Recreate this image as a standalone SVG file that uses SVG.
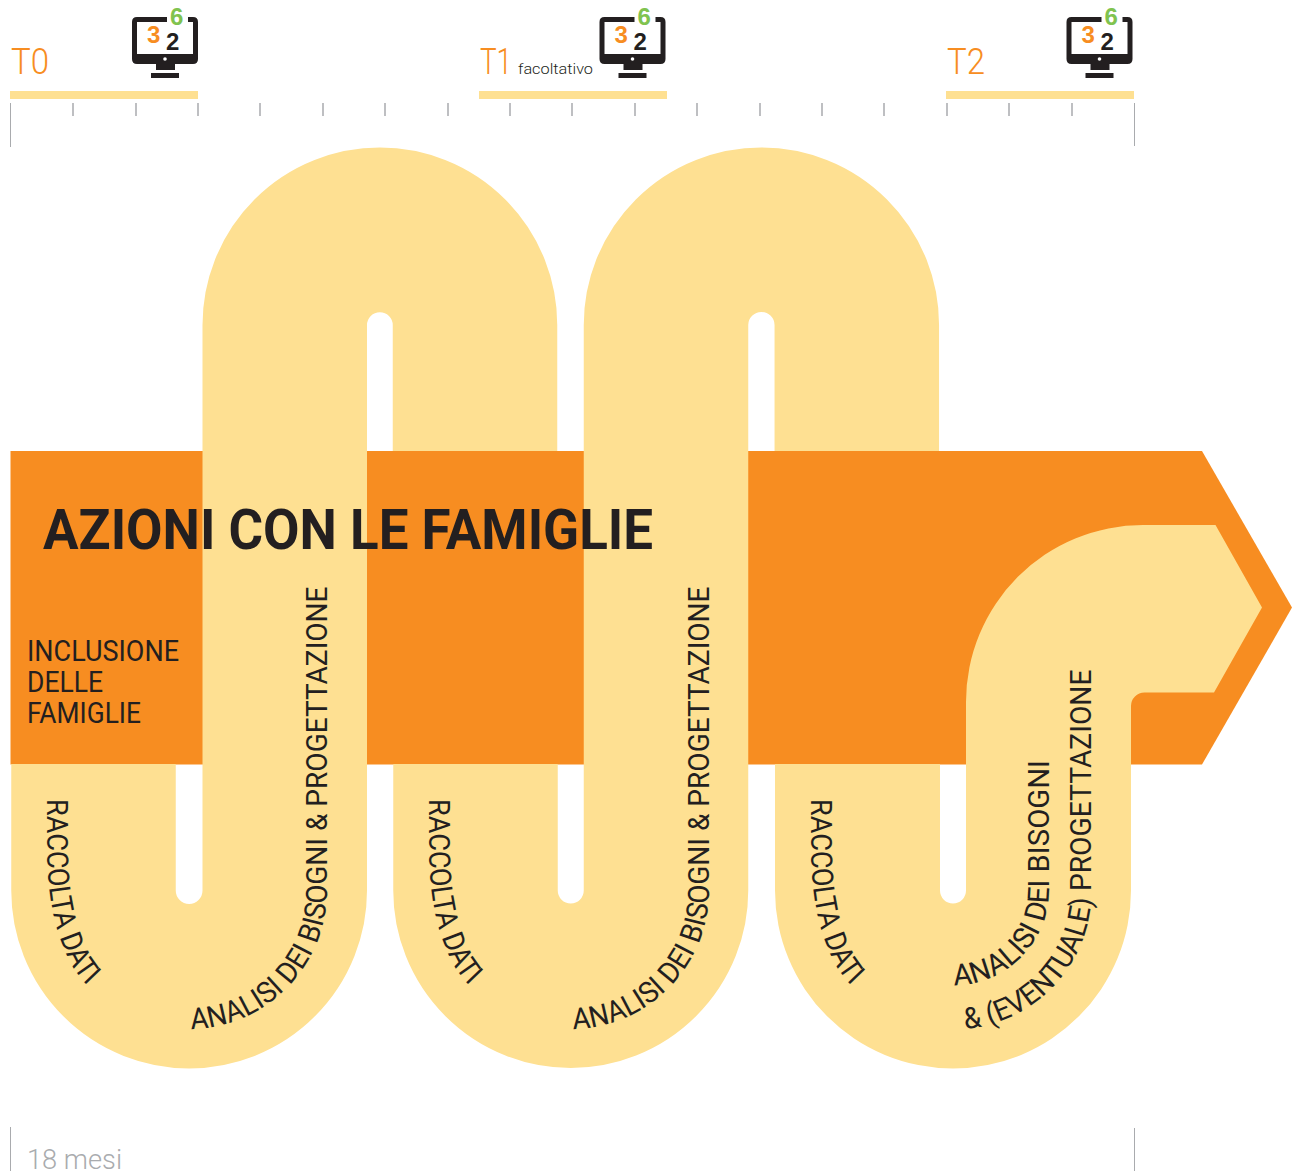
<svg xmlns="http://www.w3.org/2000/svg" width="1297" height="1174" viewBox="0 0 1297 1174">
<style>
.band{fill:none;stroke:#fee092;stroke-width:164.500}
.bar{fill:#fee092}
.tick{stroke:#a9abae;stroke-width:1.500;fill:none}
.long{stroke:#a9abae;stroke-width:1;fill:none}
.t{font-family:"Roboto","Liberation Sans",sans-serif;fill:#f78d21;font-size:37px;font-weight:300}
.lab{font-family:"Roboto","Liberation Sans",sans-serif;fill:#231f20;font-size:29.500px;font-weight:400}
.dk{fill:#231f20}
.num{font-family:"Liberation Sans",sans-serif;font-weight:700;font-size:24px}
</style>
<defs>
<g id="monitor">
<path class="dk" d="M35 0H5Q0 0 0 5V42Q0 47 5 47H61Q66 47 66 42V5Q66 0 61 0H56V5H61V37H5V5H35Z"/>
<path class="dk" d="M24 46H43V53H24ZM19 56H47V61H19Z"/>
<circle cx="33" cy="42" r="1.800" fill="#fff"/>
<text class="num" x="15" y="26" style="fill:#f78d21">3</text>
<text class="num" x="34" y="32.500" style="fill:#231f20">2</text>
<text class="num" x="38" y="8" style="fill:#80c34f">6</text>
</g>
<path id="p1" d="M47 799V850C47 915 65 965 88 986C110 1005 130 1020 160 1030"/>
<path id="p2" d="M191 1029A138.500 138.500 0 0 0 327 890.500V500"/>
<path id="p3" d="M429 799V850C429 915 447 965 470 986C492 1005 512 1020 542 1030"/>
<path id="p4" d="M573 1029A138.500 138.500 0 0 0 709 890.500V500"/>
<path id="p5" d="M811 799V850C811 915 829 965 852 986C874 1005 894 1020 924 1030"/>
<path id="p6" d="M954 985A95 95 0 0 0 1049 890.500V640"/>
<path id="p7" d="M965 1029A138.500 138.500 0 0 0 1091.500 890.500V560"/>
</defs>

<g id="timeline">
<path class="long" d="M10.500 103V147M1134.500 103V146M10.500 1127V1171M1134.500 1128V1171"/>
<path class="tick" d="M73 103V116M136 103V116M198 103V116M260 103V116M323 103V116M385 103V116M448 103V116M510 103V116M572 103V116M635 103V116M697 103V116M760 103V116M822 103V116M884 103V116M947 103V116M1009 103V116M1072 103V116"/>
</g>

<g id="t0">
<rect class="bar" x="10" y="91" width="188" height="8"/>
<text class="t" x="11" y="74" textLength="38" lengthAdjust="spacingAndGlyphs">T0</text>
<use href="#monitor" x="132" y="17"/>
</g>
<g id="t1">
<rect class="bar" x="479" y="91" width="188" height="8"/>
<text class="t" x="480" y="74" textLength="32" lengthAdjust="spacingAndGlyphs">T1</text>
<text x="518" y="74" font-family="Roboto, 'Liberation Sans', sans-serif" font-size="15.500" font-weight="300" fill="#231f20" textLength="75" lengthAdjust="spacingAndGlyphs">facoltativo</text>
<use href="#monitor" x="599.500" y="17"/>
</g>
<g id="t2">
<rect class="bar" x="946" y="91" width="188" height="8"/>
<text class="t" x="947" y="74" textLength="38" lengthAdjust="spacingAndGlyphs">T2</text>
<use href="#monitor" x="1066.500" y="17"/>
</g>

<g id="arrow"><path d="M10.500 451H1202L1292 607.500L1202 764.500H10.500Z" fill="#f78d21"/></g>

<g id="connectors">
<path class="band" d="M93.500 764V890.500A95.625 95.625 0 0 0 284.750 890.500V325A95.125 95.125 0 0 1 475 325V451"/>
<path class="band" d="M475.500 764V890.500A95.250 95.250 0 0 0 666 890.500V325A95.400 95.400 0 0 1 856.800 325V451"/>
<path d="M775 764V890.500A178 178 0 0 0 1131 890.500V706A13.500 13.500 0 0 1 1144.500 692.500H1214L1262 607.500L1215.500 525H1143A177 177 0 0 0 966 702V890.500A13 13 0 0 1 940 890.500V764Z" fill="#fee092"/>
</g>

<g id="title"><text x="43" y="549" font-family="Roboto, 'Liberation Sans', sans-serif" font-size="56" font-weight="700" fill="#231f20" textLength="610" lengthAdjust="spacingAndGlyphs">AZIONI CON LE FAMIGLIE</text></g>
<g id="inclusione">
<text class="lab" x="27" y="661" textLength="152" lengthAdjust="spacingAndGlyphs">INCLUSIONE</text>
<text class="lab" x="27" y="692" textLength="76" lengthAdjust="spacingAndGlyphs">DELLE</text>
<text class="lab" x="27" y="723" textLength="114" lengthAdjust="spacingAndGlyphs">FAMIGLIE</text>
</g>
<g id="raccolta1"><text class="lab"><textPath href="#p1" textLength="196" lengthAdjust="spacingAndGlyphs">RACCOLTA DATI</textPath></text></g>
<g id="analisi1"><text class="lab"><textPath href="#p2" textLength="519" lengthAdjust="spacingAndGlyphs">ANALISI DEI BISOGNI &amp; PROGETTAZIONE</textPath></text></g>
<g id="raccolta2"><text class="lab"><textPath href="#p3" textLength="196" lengthAdjust="spacingAndGlyphs">RACCOLTA DATI</textPath></text></g>
<g id="analisi2"><text class="lab"><textPath href="#p4" textLength="519" lengthAdjust="spacingAndGlyphs">ANALISI DEI BISOGNI &amp; PROGETTAZIONE</textPath></text></g>
<g id="raccolta3"><text class="lab"><textPath href="#p5" textLength="196" lengthAdjust="spacingAndGlyphs">RACCOLTA DATI</textPath></text></g>
<g id="analisi3"><text class="lab"><textPath href="#p6" textLength="279" lengthAdjust="spacingAndGlyphs">ANALISI DEI BISOGNI</textPath></text><text class="lab"><textPath href="#p7" textLength="427" lengthAdjust="spacingAndGlyphs">&amp; (EVENTUALE) PROGETTAZIONE</textPath></text></g>
<g id="durata"><text x="27" y="1169" font-family="Roboto, 'Liberation Sans', sans-serif" font-size="27" font-weight="300" fill="#a9abae" textLength="95" lengthAdjust="spacingAndGlyphs">18 mesi</text></g>
</svg>
